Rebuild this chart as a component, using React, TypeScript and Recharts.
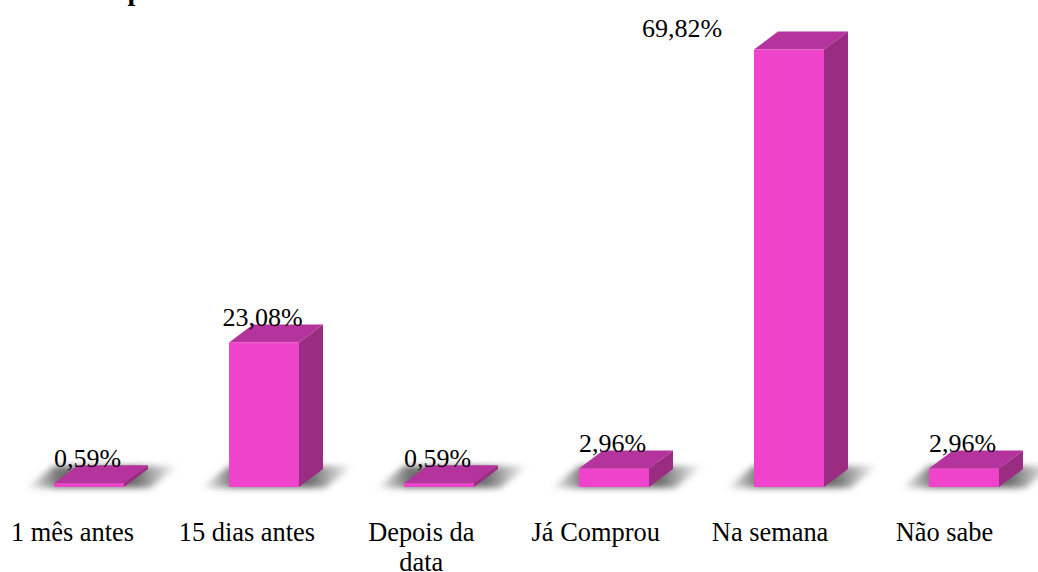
import { Bar, BarChart, LabelList, XAxis, YAxis } from "recharts";

const categories = [
	"1 mês antes",
	"15 dias antes",
	"Depois da data",
	"Já Comprou",
	"Na semana",
	"Não sabe",
];
const shares = [0.59, 23.08, 0.59, 2.96, 69.82, 2.96];
const shareLabels = ["0,59%", "23,08%", "0,59%", "2,96%", "69,82%", "2,96%"];
const wrappedCategories: Record<string, string[]> = {
	"Depois da data": ["Depois da", "data"],
};

const data = categories.map((name, i) => ({
	name,
	value: shares[i],
	label: shareLabels[i],
}));

const FONT = '"Liberation Serif", "Times New Roman", serif';
const DEPTH_X = 24;
const DEPTH_Y = 18;

// column with fake 3D faces, shadow falls behind it
function Column3D({ x, y, width, height }: any) {
	const base = y + height;
	const right = x + width;
	return (
		<g>
			<polygon
				points={`${x - 28},${base + 1} ${x},${base - 21} ${right + 54},${base - 21} ${right + 26},${base + 1}`}
				fill="url(#shadowFade)"
				filter="url(#shadowBlur)"
			/>
			<polygon
				points={`${x},${y} ${x + DEPTH_X},${y - DEPTH_Y} ${right + DEPTH_X},${y - DEPTH_Y} ${right},${y}`}
				fill="#b4339c"
			/>
			<polygon
				points={`${right},${y} ${right + DEPTH_X},${y - DEPTH_Y} ${right + DEPTH_X},${base - DEPTH_Y} ${right},${base}`}
				fill="#9a2c82"
			/>
			<rect x={x} y={y} width={width} height={height} fill="#ef43cb" />
		</g>
	);
}

function CategoryTick({ x, y, payload, index }: any) {
	const lines = wrappedCategories[payload.value] ?? [payload.value];
	const cx = x - 16 - index * 0.6;
	return (
		<text x={cx} y={y + 48} textAnchor="middle" fontFamily={FONT} fontSize={26.4} fill="#000">
			{lines.map((line: string, i: number) => (
				<tspan key={line} x={cx} dy={i === 0 ? 0 : 30}>
					{line}
				</tspan>
			))}
		</text>
	);
}

function ShareLabel({ x, y, width, value, index }: any) {
	// the biggest column has its label moved aside
	const shift = index === 4 ? -107 : -1.5;
	const top = index === 4 ? y - 13 : y - 16;
	return (
		<text x={x + width / 2 + shift} y={top} textAnchor="middle" fontFamily={FONT} fontSize={26} fill="#000">
			{value}
		</text>
	);
}

export default function App() {
	return (
		<div style={{ position: "absolute", left: 0, top: 0, width: 1038, height: 572, overflow: "hidden", background: "#fff" }}>
			<BarChart
				width={1051}
				height={572}
				data={data}
				barCategoryGap={0}
				barSize={70}
				margin={{ top: 0, right: 0, bottom: 0, left: 1 }}
			>
				<defs>
					<filter id="shadowBlur" x="-30%" y="-60%" width="160%" height="220%">
						<feGaussianBlur stdDeviation="3" />
					</filter>
					<linearGradient id="shadowFade" x1="0" y1="0" x2="1" y2="0">
						<stop offset="0" stopColor="#707070" stopOpacity={0} />
						<stop offset="0.22" stopColor="#707070" stopOpacity={1} />
						<stop offset="0.72" stopColor="#707070" stopOpacity={1} />
						<stop offset="1" stopColor="#707070" stopOpacity={0} />
					</linearGradient>
				</defs>
				<XAxis
					dataKey="name"
					axisLine={false}
					tickLine={false}
					interval={0}
					tick={<CategoryTick />}
					height={85}
					tickMargin={0}
				/>
				<YAxis hide domain={[0, 77.73]} />
				<Bar dataKey="value" shape={<Column3D />} isAnimationActive={false}>
					<LabelList dataKey="label" content={<ShareLabel />} />
				</Bar>
			</BarChart>
			<div
				style={{
					position: "absolute",
					left: 70,
					top: -27.5,
					fontFamily: FONT,
					fontWeight: "bold",
					fontSize: 28,
					lineHeight: "36px",
					whiteSpace: "nowrap",
				}}
			>
				<span style={{ visibility: "hidden" }}>Com</span>p
			</div>
		</div>
	);
}
